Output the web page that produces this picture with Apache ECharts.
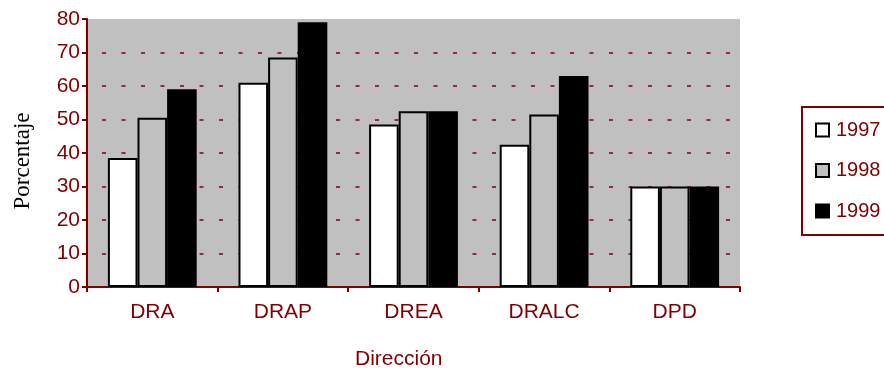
<!DOCTYPE html>
<html><head><meta charset="utf-8">
<script src="https://cdn.jsdelivr.net/npm/echarts@6/dist/echarts.min.js"></script>
<style>html,body{margin:0;padding:0;background:#fff}#c{width:884px;height:368px}</style>
</head><body><div id="c"></div>
<script>
const categories = ['DRA', 'DRAP', 'DREA', 'DRALC', 'DPD'];
const years = ['1997', '1998', '1999'];
const v1997 = [38.5, 61, 48.5, 42.5, 30];
const v1998 = [50.5, 68.5, 52.5, 51.5, 30];
const v1999 = [59, 79, 52.5, 63, 30];
const yTicks = [0, 80, 10];
const fills = ['#ffffff', '#c0c0c0', '#000000'];
const red = '#800000';
const font = '"Liberation Sans", Arial, sans-serif';

const chart = echarts.init(document.getElementById('c'), null, {renderer: 'canvas'});
const seriesData = [v1997, v1998, v1999];
chart.setOption({
  animation: false,
  grid: {left: 87, right: 144, top: 19, bottom: 81, show: true, backgroundColor: '#c0c0c0', borderWidth: 0},
  legend: {
    orient: 'vertical', left: 802, top: 107,
    padding: [12, 40, 13, 13],
    itemWidth: 13, itemHeight: 13, itemGap: 18.5,
    borderColor: red, borderWidth: 2,
    icon: 'rect',
    textStyle: {color: red, fontSize: 20, fontFamily: font, lineHeight: 22, padding: [0, 0, 0, 2]},
    data: years
  },
  xAxis: {
    type: 'category', data: categories,
    axisLine: {lineStyle: {color: red, width: 2}},
    axisTick: {show: true, length: 5, lineStyle: {color: red, width: 2}},
    axisLabel: {color: red, fontSize: 21, fontFamily: font, margin: 15},
    splitLine: {show: false}
  },
  yAxis: {
    type: 'value', min: yTicks[0], max: yTicks[1], interval: yTicks[2],
    name: 'Porcentaje', nameLocation: 'middle', nameGap: 53,
    nameTextStyle: {color: '#000', fontSize: 23, fontFamily: '"Liberation Serif", "Times New Roman", serif', padding: [0, 16, 0, 0]},
    axisLine: {show: true, lineStyle: {color: red, width: 2}},
    axisTick: {show: true, length: 5, lineStyle: {color: red, width: 2}},
    axisLabel: {color: red, fontSize: 21, fontFamily: font, margin: 7},
    splitLine: {show: true, showMaxLine: false, lineStyle: {color: red, width: 1.5, type: [4, 15.5], dashOffset: -15}}
  },
  graphic: [{
    type: 'text', left: 355, top: 349,
    style: {text: 'Dirección', fill: red, font: '21px ' + font}
  }],
  series: years.map((y, i) => ({
    name: y, type: 'bar', data: seriesData[i],
    barGap: '0%', barCategoryGap: '32%',
    itemStyle: {color: fills[i], borderColor: '#000', borderWidth: 2},
    emphasis: {disabled: true}
  }))
});
</script></body></html>
